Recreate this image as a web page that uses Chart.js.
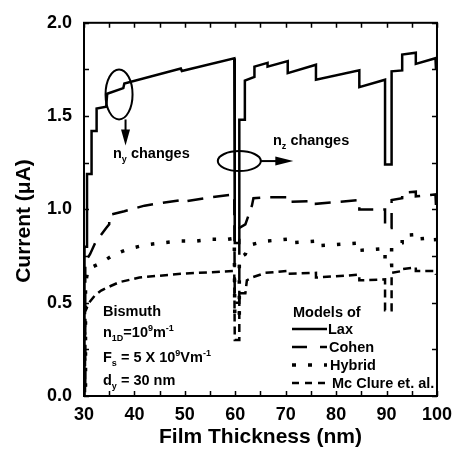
<!DOCTYPE html>
<html>
<head>
<meta charset="utf-8">
<script src="https://cdn.jsdelivr.net/npm/chart.js@4"></script>
<style>
  html, body { margin: 0; padding: 0; background: #fff; }
  #wrap { width: 460px; height: 458px; }
</style>
</head>
<body>
<div id="wrap"><canvas id="chart" width="460" height="458"></canvas></div>
<script>
// film thickness (nm) / current (uA)
var laxX = [30.1, 30.1, 30.6, 30.6, 31.5, 31.5, 32.5, 32.5, 34.4, 34.6, 37.8, 38.0, 49.2, 49.4, 59.8, 59.9, 60.8, 60.8, 61.9, 61.9, 63.8, 63.8, 66.4, 66.4, 70.4, 70.4, 76.0, 76.0, 84.6, 84.6, 89.7, 89.7, 91.0, 91.0, 93.1, 93.1, 95.8, 95.8, 99.7, 99.8];
var laxY = [0.0, 0.8, 0.8, 1.19, 1.19, 1.42, 1.42, 1.54, 1.55, 1.62, 1.65, 1.675, 1.755, 1.742, 1.81, 0.82, 0.82, 1.48, 1.48, 1.69, 1.71, 1.765, 1.785, 1.765, 1.795, 1.73, 1.775, 1.695, 1.745, 1.655, 1.695, 1.24, 1.24, 1.74, 1.745, 1.83, 1.84, 1.78, 1.81, 1.75];

var cohenX = [30.25, 30.25, 31.2, 32.2, 33.3, 34.4, 35.0, 35.0, 38.0, 42.0, 49.2, 49.4, 55.0, 59.8, 59.9, 60.8, 60.8, 62.0, 63.3, 63.6, 66.0, 70.4, 70.4, 76.0, 76.0, 84.6, 84.6, 89.7, 89.7, 91.0, 91.0, 93.1, 93.1, 95.8, 95.8, 99.7, 99.8];
var cohenY = [0.05, 0.72, 0.76, 0.82, 0.86, 0.9, 0.92, 0.97, 0.99, 1.02, 1.05, 1.04, 1.065, 1.08, 0.5, 0.5, 0.9, 0.92, 1.02, 1.06, 1.065, 1.065, 1.04, 1.045, 1.03, 1.05, 1.0, 1.0, 0.9, 0.9, 1.05, 1.06, 1.09, 1.095, 1.07, 1.08, 1.02];

var hybridX = [30.3, 30.3, 30.8, 33.1, 36.1, 39.0, 42.3, 45.4, 48.8, 52.1, 55.2, 58.5, 59.8, 59.9, 60.8, 60.8, 62.0, 62.5, 63.0, 66.0, 70.4, 70.4, 76.0, 76.0, 84.6, 84.6, 89.7, 89.7, 91.0, 91.0, 93.1, 93.1, 95.8, 95.8, 99.7, 99.8];
var hybridY = [0.05, 0.6, 0.68, 0.71, 0.76, 0.79, 0.81, 0.82, 0.83, 0.83, 0.84, 0.84, 0.845, 0.42, 0.42, 0.74, 0.76, 0.8, 0.81, 0.83, 0.84, 0.82, 0.83, 0.805, 0.82, 0.78, 0.79, 0.7, 0.7, 0.8, 0.82, 0.86, 0.865, 0.84, 0.85, 0.8];

var mcclureX = [30.2, 30.2, 31.0, 32.2, 33.4, 34.5, 37.0, 41.0, 49.2, 59.8, 59.9, 60.8, 60.8, 62.0, 62.3, 63.3, 66.0, 70.4, 70.4, 76.0, 76.0, 84.6, 84.6, 89.7, 89.7, 91.0, 91.0, 93.1, 93.1, 95.8, 95.8, 99.7, 99.8];
var mcclureY = [0.02, 0.45, 0.5, 0.54, 0.565, 0.58, 0.61, 0.635, 0.655, 0.67, 0.3, 0.3, 0.55, 0.55, 0.62, 0.635, 0.66, 0.67, 0.655, 0.66, 0.635, 0.65, 0.62, 0.625, 0.46, 0.46, 0.66, 0.67, 0.68, 0.69, 0.67, 0.67, 0.65];

var FONT = '"Liberation Sans", Arial, sans-serif';
var TXT = 14.5;

function pts(xs, ys) {
    return xs.map(function (x, i) { return { x: x, y: ys[i] }; });
}

function series(label, xs, ys, dash, width) {
    return {
        label: label,
        data: pts(xs, ys),
        borderColor: '#000',
        backgroundColor: '#000',
        borderWidth: width,
        borderDash: dash,
        borderCapStyle: 'butt',
        borderJoinStyle: 'miter',
        pointRadius: 0,
        tension: 0,
        fill: false
    };
}

function rich(ctx, x, y, parts, size) {
    parts.forEach(function (p) {
        var s = (p.sub || p.sup) ? Math.round(size * 0.6) : size;
        ctx.font = 'bold ' + s + 'px ' + FONT;
        var dy = p.sub ? size * 0.3 : (p.sup ? -size * 0.42 : 0);
        ctx.fillText(p.t, x, y + dy);
        x += ctx.measureText(p.t).width;
    });
}

var extras = {
    id: 'extras',
    afterDraw: function (chart) {
        var ctx = chart.ctx, a = chart.chartArea;
        var xs = chart.scales.x, ys = chart.scales.y;
        ctx.save();
        ctx.strokeStyle = '#000';
        ctx.fillStyle = '#000';
        ctx.setLineDash([]);

        // inward ticks on all four sides
        ctx.lineWidth = 1.5;
        ctx.beginPath();
        xs.ticks.forEach(function (t) {
            var px = Math.round(xs.getPixelForValue(t.value)) + 0.5;
            ctx.moveTo(px, a.bottom); ctx.lineTo(px, a.bottom - 5);
            ctx.moveTo(px, a.top); ctx.lineTo(px, a.top + 5);
        });
        ys.ticks.forEach(function (t) {
            var py = Math.round(ys.getPixelForValue(t.value)) + 0.5;
            ctx.moveTo(a.left, py); ctx.lineTo(a.left + 5, py);
            ctx.moveTo(a.right, py); ctx.lineTo(a.right - 5, py);
        });
        ctx.stroke();

        // frame
        ctx.lineWidth = 2;
        ctx.strokeRect(a.left, a.top, a.right - a.left, a.bottom - a.top);

        // y axis title (sits a bit below the axis centre in the original)
        ctx.save();
        ctx.translate(24, 221);
        ctx.rotate(-Math.PI / 2);
        ctx.font = 'bold 21px ' + FONT;
        ctx.textAlign = 'center';
        ctx.textBaseline = 'middle';
        ctx.fillText('Current (\u03bcA)', 0, 0);
        ctx.restore();

        // n_y ellipse + down arrow
        ctx.lineWidth = 2;
        var e1x = xs.getPixelForValue(36.95), e1y = ys.getPixelForValue(1.616);
        ctx.beginPath();
        ctx.ellipse(e1x, e1y, 13.5, 25, 0, 0, Math.PI * 2);
        ctx.stroke();
        ctx.beginPath();
        ctx.moveTo(e1x + 6.5, e1y + 25); ctx.lineTo(e1x + 6.5, e1y + 37);
        ctx.stroke();
        ctx.beginPath();
        ctx.moveTo(e1x + 2, e1y + 35); ctx.lineTo(e1x + 11, e1y + 35); ctx.lineTo(e1x + 6.5, e1y + 51);
        ctx.closePath(); ctx.fill();

        // n_z ellipse + right arrow
        var e2x = xs.getPixelForValue(60.8), e2y = ys.getPixelForValue(1.259);
        ctx.beginPath();
        ctx.ellipse(e2x, e2y, 21.5, 10, 0, 0, Math.PI * 2);
        ctx.stroke();
        ctx.beginPath();
        ctx.moveTo(e2x + 21.5, e2y); ctx.lineTo(e2x + 38, e2y);
        ctx.stroke();
        ctx.beginPath();
        ctx.moveTo(e2x + 36, e2y - 4.5); ctx.lineTo(e2x + 36, e2y + 4.5); ctx.lineTo(e2x + 54, e2y);
        ctx.closePath(); ctx.fill();

        ctx.textBaseline = 'alphabetic';
        ctx.textAlign = 'left';
        rich(ctx, 113, 158, [{ t: 'n' }, { t: 'y', sub: true }, { t: ' changes' }], TXT);
        rich(ctx, 273, 145, [{ t: 'n' }, { t: 'z', sub: true }, { t: ' changes' }], TXT);

        // parameter block
        rich(ctx, 103, 316, [{ t: 'Bismuth' }], TXT);
        rich(ctx, 103, 337, [{ t: 'n' }, { t: '1D', sub: true }, { t: '=10' }, { t: '9', sup: true }, { t: 'm' }, { t: '-1', sup: true }], TXT);
        rich(ctx, 103, 362, [{ t: 'F' }, { t: 's', sub: true }, { t: ' = 5 X 10' }, { t: '9', sup: true }, { t: 'Vm' }, { t: '-1', sup: true }], TXT);
        rich(ctx, 103, 385, [{ t: 'd' }, { t: 'y', sub: true }, { t: ' = 30 nm' }], TXT);

        // legend
        rich(ctx, 293, 317, [{ t: 'Models of' }], TXT);
        var rowsY = [329, 347, 365, 383];
        var labelX = [328, 329, 330, 332];
        var sampleDash = [[], [15, 13], [4, 12], [7, 6]];
        chart.data.datasets.forEach(function (ds, i) {
            ctx.lineWidth = ds.borderWidth;
            ctx.setLineDash(sampleDash[i]);
            ctx.lineCap = 'butt';
            ctx.beginPath();
            ctx.moveTo(292, rowsY[i]); ctx.lineTo(327, rowsY[i]);
            ctx.stroke();
            ctx.setLineDash([]);
            rich(ctx, labelX[i], rowsY[i] + 5, [{ t: ds.label }], TXT);
        });
        ctx.restore();
    }
};

new Chart(document.getElementById('chart').getContext('2d'), {
    type: 'line',
    data: {
        datasets: [
            series('Lax', laxX, laxY, [], 2.5),
            series('Cohen', cohenX, cohenY, [16, 10], 2.5),
            series('Hybrid', hybridX, hybridY, [3.5, 12], 3.5),
            series('Mc Clure et. al.', mcclureX, mcclureY, [8, 5], 2.5)
        ]
    },
    options: {
        responsive: false,
        animation: false,
        layout: { padding: { left: 0, top: 21, right: 18, bottom: 0 } },
        plugins: { legend: { display: false }, tooltip: { enabled: false } },
        scales: {
            x: {
                type: 'linear',
                min: 30,
                max: 100,
                grid: { display: false, drawTicks: false },
                border: { display: false },
                ticks: {
                    stepSize: 5,
                    padding: 8,
                    autoSkip: false,
                    maxRotation: 0,
                    color: '#000',
                    font: { family: FONT, size: 18, weight: 'bold' },
                    callback: function (v) { return v % 10 === 0 ? String(v) : ''; }
                },
                title: {
                    display: true,
                    text: 'Film Thickness (nm)',
                    color: '#000',
                    font: { family: FONT, size: 21, weight: 'bold' },
                    padding: { top: 0, bottom: 8 }
                },
                afterFit: function (s) { s.height = 62; }
            },
            y: {
                min: 0,
                max: 2,
                grid: { display: false, drawTicks: false },
                border: { display: false },
                ticks: {
                    stepSize: 0.25,
                    padding: 12,
                    autoSkip: false,
                    color: '#000',
                    font: { family: FONT, size: 18, weight: 'bold' },
                    callback: function (v) { return Math.abs(v * 2 - Math.round(v * 2)) < 1e-9 ? v.toFixed(1) : ''; }
                },
                title: { display: false },
                afterFit: function (s) { s.width = 84; }
            }
        }
    },
    plugins: [extras]
});
</script>
</body>
</html>
